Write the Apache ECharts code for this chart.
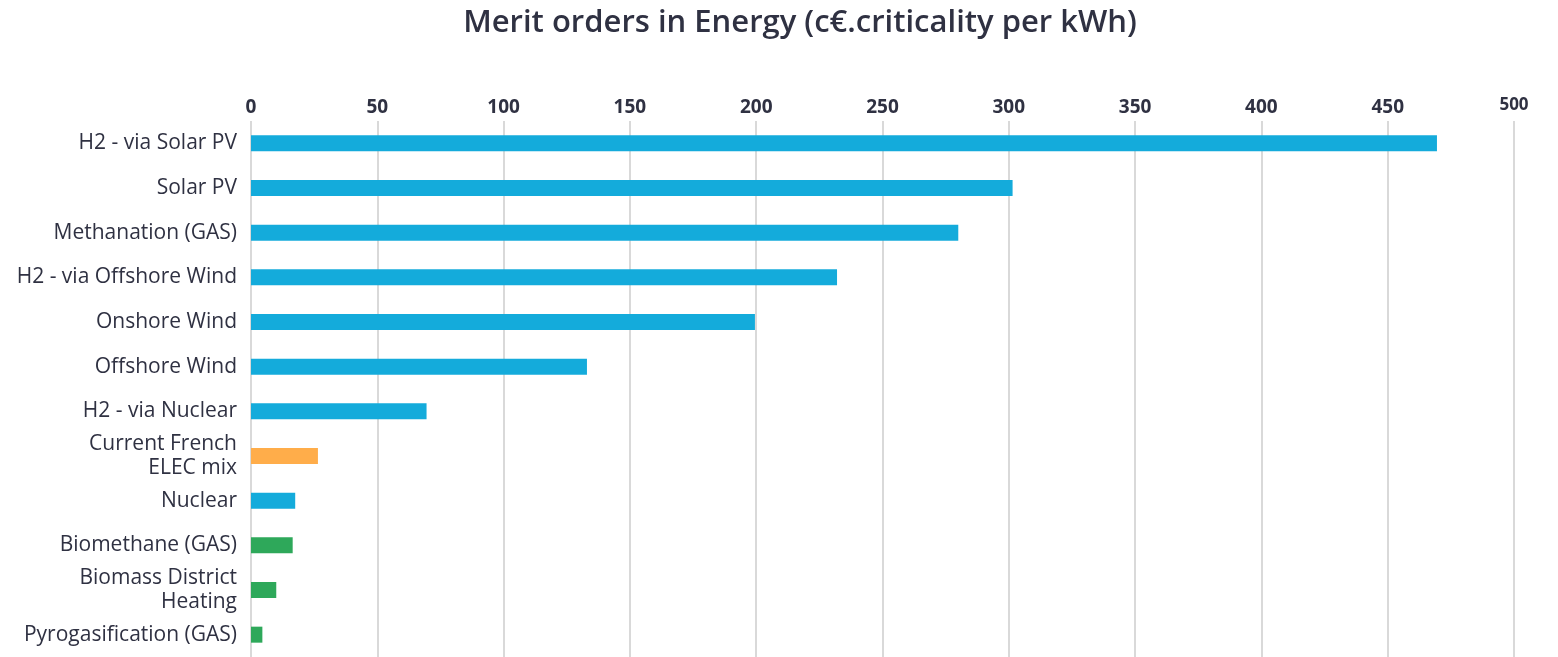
<!DOCTYPE html>
<html>
<head>
<meta charset="utf-8">
<title>Merit orders in Energy</title>
<script src="https://cdn.jsdelivr.net/npm/echarts@6/dist/echarts.min.js"></script>
<style>
  html, body { margin: 0; padding: 0; background: #fff; }
  #chart { width: 1558px; height: 657px; }
</style>
</head>
<body>
<div id="chart"></div>
<script>
// categories, top to bottom
const categories = [
  'H2 - via Solar PV',
  'Solar PV',
  'Methanation (GAS)',
  'H2 - via Offshore Wind',
  'Onshore Wind',
  'Offshore Wind',
  'H2 - via Nuclear',
  'Current French\nELEC mix',
  'Nuclear',
  'Biomethane (GAS)',
  'Biomass District\nHeating',
  'Pyrogasification (GAS)'
]
const values = [469.5, 301.5, 280, 232, 199.5, 133, 69.5, 26.5, 17.5, 16.5, 10, 4.5]
// colour group per bar: 0 = blue, 1 = orange, 2 = green
const groups = [0, 0, 0, 0, 0, 0, 0, 1, 0, 2, 2, 2]
const groupColors = ['#14abdb', '#ffad4a', '#2ea85a']

const chart = echarts.init(document.getElementById('chart'))

const option = {
  backgroundColor: '#fff',
  title: {
    text: 'Merit orders in Energy (c€.criticality per kWh)',
    left: 795,
    textAlign: 'center',
    top: 3,
    textStyle: {
      fontFamily: 'Open Sans',
      fontSize: 31,
      fontWeight: 600,
      color: '#2f3142'
    }
  },
  grid: {
    left: 251,
    right: 44,
    top: 121,
    bottom: 0
  },
  xAxis: {
    type: 'value',
    position: 'top',
    min: 0,
    max: 500,
    interval: 50,
    axisLine: { show: false },
    axisTick: { show: false },
    splitLine: { lineStyle: { color: '#d9d9d9', width: 2 } },
    axisLabel: {
      margin: 4,
      fontFamily: 'Open Sans',
      fontSize: 19,
      fontWeight: 'bold',
      color: '#2f3142',
      formatter: v => v === 500 ? '{s|500}' : String(v),
      rich: {
        s: { fontSize: 17, fontWeight: 'bold', color: '#2f3142', fontFamily: 'Open Sans', padding: [0, 0, 3, 0] }
      }
    }
  },
  yAxis: {
    type: 'category',
    inverse: true,
    data: categories,
    axisLine: { show: false },
    axisTick: { show: false },
    axisLabel: {
      margin: 14,
      fontFamily: 'Open Sans',
      fontSize: 21,
      lineHeight: 24,
      color: '#2f3142',
      padding: [3, 0, 0, 0]
    }
  },
  series: [
    {
      type: 'bar',
      barWidth: 16,
      data: values.map((v, i) => ({
        value: v,
        itemStyle: { color: groupColors[groups[i]] }
      }))
    }
  ]
}

chart.setOption(option)
</script>
</body>
</html>
